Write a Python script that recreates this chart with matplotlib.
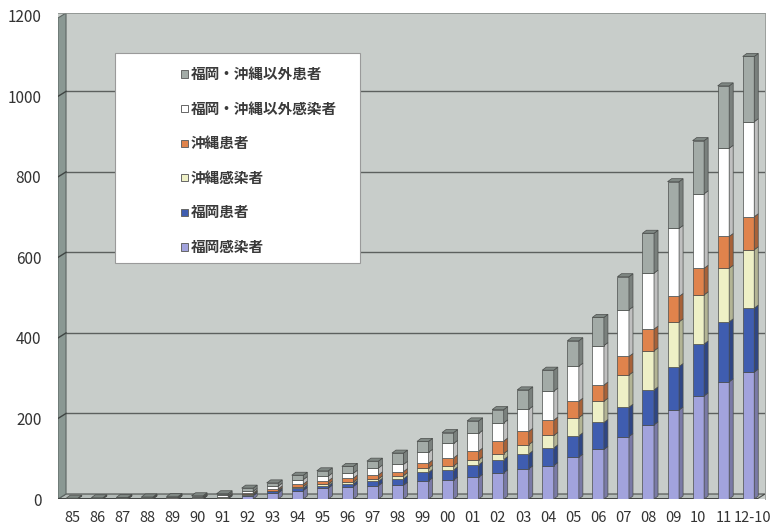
import numpy as np
import matplotlib.pyplot as plt
from matplotlib.patches import Rectangle
from matplotlib.colors import to_rgb
from matplotlib.transforms import ScaledTranslation

plt.rcParams['font.family'] = ['Noto Sans CJK JP', 'DejaVu Sans']

years = ['85', '86', '87', '88', '89', '90', '91', '92', '93', '94', '95', '96', '97', '98',
         '99', '00', '01', '02', '03', '04', '05', '06', '07', '08', '09', '10', '11', '12-10']

# 累積報告数（下から積み上げる順）
fukuoka_inf = [0, 0, 0, 1, 1, 1, 2, 8, 15, 21, 27, 31, 33, 34, 45, 47, 54, 65, 75, 83, 104, 123, 155, 184, 221, 256, 291, 315]
fukuoka_pat = [0, 0, 0, 0, 0, 1, 1, 3, 4, 6, 6, 7, 11, 16, 21, 25, 31, 33, 37, 44, 53, 67, 73, 87, 108, 129, 149, 159]
okinawa_inf = [0, 0, 0, 0, 0, 0, 1, 1, 2, 4, 4, 4, 6, 8, 11, 10, 12, 15, 23, 31, 45, 53, 80, 97, 111, 122, 133, 145]
okinawa_pat = [0, 0, 1, 1, 1, 1, 2, 3, 4, 6, 8, 10, 10, 10, 12, 20, 22, 31, 33, 38, 41, 40, 46, 54, 63, 66, 79, 82]
other_inf = [1, 1, 1, 1, 2, 2, 3, 4, 7, 11, 12, 12, 17, 18, 27, 36, 44, 45, 55, 72, 87, 98, 116, 139, 169, 185, 219, 236]
other_pat = [1, 2, 2, 2, 2, 3, 4, 8, 8, 11, 13, 17, 17, 28, 27, 27, 31, 33, 48, 52, 63, 70, 82, 99, 116, 132, 155, 162]

labels = ['福岡感染者', '福岡患者', '沖縄感染者', '沖縄患者', '福岡・沖縄以外感染者', '福岡・沖縄以外患者']
colors = ['#a2a3dd', '#3f5db0', '#eef0c6', '#e0834c', '#ffffff', '#a3aba7']
stack = [fukuoka_inf, fukuoka_pat, okinawa_inf, okinawa_pat, other_inf, other_pat]

fig = plt.figure(figsize=(7.72, 5.28), dpi=100)
ax = fig.add_axes([58/772, 29/528, 707/772, 486/528])
ax.set_facecolor('#c8cdca')
ax.set_xlim(-0.56, 27.66)
ax.set_ylim(0, 1207)

x_out, x_in = -0.56, -0.24
x_right = 27.66
floor = 12.4
edge = '#4a4d4b'

# 奥の壁の目盛線と左の壁
for v in [200, 400, 600, 800, 1000]:
    ax.plot([x_in, x_right], [v + floor, v + floor], color='#5c605e', lw=1.0, zorder=1)
    ax.plot([x_out, x_in], [v, v + floor], color='#3e4442', lw=1.0, zorder=2.5)
ax.fill([x_out, x_out, x_in, x_in], [0, 1207 - floor, 1207, floor],
        color='#8a9893', ec='#5d6663', lw=0.8, zorder=2)
# 床
ax.fill([x_out, x_right - 0.32, x_right, x_in], [0, 0, floor, floor],
        color='#b4bbb8', ec=edge, lw=0.8, zorder=1.5)
ax.plot([x_out, x_right - 0.32], [0, 0], color='#3a3d3c', lw=1.2, zorder=2)

x = np.arange(len(years))
w = 0.46
dx, dy = 0.16, 7.5
bottom = np.zeros(len(years))
for vals, col in zip(stack, colors):
    vals = np.array(vals, dtype=float)
    ax.bar(x, vals, w, bottom=bottom, color=col, edgecolor=edge, linewidth=0.5, zorder=3)
    side = np.array(to_rgb(col)) * 0.75
    for xi, b, v in zip(x, bottom, vals):
        if v <= 0:
            continue
        xr = xi + w / 2
        ax.fill([xr, xr + dx, xr + dx, xr], [b, b + dy, b + v + dy, b + v],
                color=side, ec=edge, lw=0.5, zorder=3)
    bottom += vals

# 柱の上面
for xi, t in zip(x, bottom):
    ax.fill([xi - w/2, xi + w/2, xi + w/2 + dx, xi - w/2 + dx], [t, t, t + dy, t + dy],
            color='#7f8783', ec=edge, lw=0.5, zorder=3.5)

ax.set_xticks(x)
ax.set_xticklabels(years)
ax.set_yticks([0, 200, 400, 600, 800, 1000, 1200])
ax.tick_params(axis='y', length=0, labelsize=11, colors='#333333', pad=12)
ax.tick_params(axis='x', length=0, labelsize=10.5, colors='#333333', pad=9)
# 最後のラベルを少し右へ
last = ax.get_xticklabels()[-1]
last.set_transform(last.get_transform() + ScaledTranslation(4/100, 0, fig.dpi_scale_trans))
for side_name in ['left', 'bottom']:
    ax.spines[side_name].set_visible(False)
for side_name in ['top', 'right']:
    ax.spines[side_name].set_color('#8a8f8c')
    ax.spines[side_name].set_linewidth(0.6)
    ax.spines[side_name].set_linestyle((0, (2, 1)))

# 凡例
W, H = 772, 528
fig.patches.append(Rectangle((115/W, (H - 263)/H), 245/W, 210/H, transform=fig.transFigure,
                             facecolor='white', edgecolor='#9a9a9a', lw=0.8, zorder=5))
for i, (lab, col) in enumerate(zip(labels[::-1], colors[::-1])):
    yc = 74 + i * 34.6
    fig.patches.append(Rectangle((181/W, (H - yc - 3.5)/H), 7/W, 7/H, transform=fig.transFigure,
                                 facecolor=col, edgecolor='#666666', lw=0.7, zorder=6))
    fig.text(191/W, (H - yc)/H, lab, fontsize=10.5, fontweight='bold', color='#3a3a3a',
             va='center', ha='left', zorder=6)

fig.savefig('out.png', dpi=100)
